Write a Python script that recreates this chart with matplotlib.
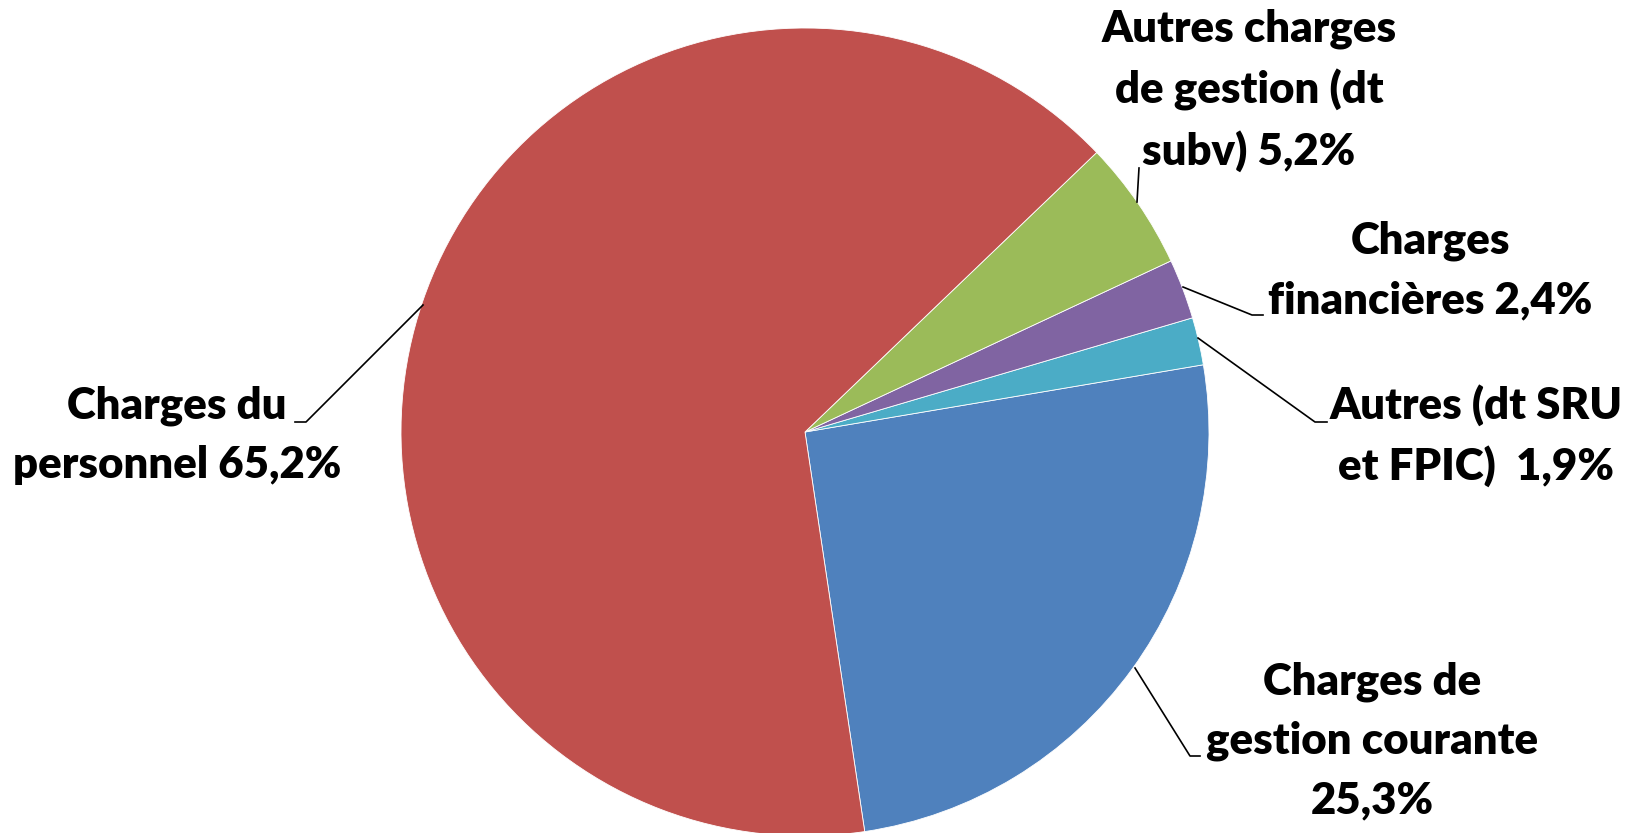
import matplotlib.pyplot as plt

# Données du graphique
categories = ["Charges de\ngestion courante\n25,3%",
              "Autres (dt SRU\net FPIC)  1,9%",
              "Charges\nfinancières 2,4%",
              "Autres charges\nde gestion (dt\nsubv) 5,2%",
              "Charges du\npersonnel 65,2%"]
valeurs = [25.3, 1.9, 2.4, 5.2, 65.2]
couleurs = ["#4F81BD", "#4BACC6", "#8064A2", "#9BBB59", "#C0504D"]

W, H = 1625, 833
fig = plt.figure(figsize=(W/100, H/100), dpi=100)
ax = fig.add_axes([0, 0, 1, 1])

# Le camembert (coordonnées en pixels, y vers le haut)
cx, cy, r = 805, H-432, 404
ax.pie(valeurs, colors=couleurs, startangle=-81.5, counterclock=True,
       center=(cx, cy), radius=r, frame=True,
       wedgeprops=dict(edgecolor="white", linewidth=0.6))
ax.set_xlim(0, W)
ax.set_ylim(0, H)
ax.axis("off")

# Étiquettes : position (x, baseline de la dernière ligne) et traits de rappel
positions = [(1372, 813), (1476, 480), (1430, 313), (1249, 165), (177, 478)]
traits = [[(1135, 668), (1190, 756), (1200, 756)],
          [(1198, 338), (1315, 422), (1327, 422)],
          [(1183, 287), (1252, 315), (1263, 315)],
          [(1137, 202), (1139, 168)],
          [(423, 305), (306, 422), (295, 422)]]

for texte, (x, y), trait in zip(categories, positions, traits):
    ax.text(x, H-y, texte, ha="center", va="baseline", fontsize=31.5,
            fontweight="heavy", family="Lato", linespacing=1.57, color="black")
    xs = [p[0] for p in trait]
    ys = [H-p[1] for p in trait]
    ax.plot(xs, ys, color="black", linewidth=1.2)

fig.savefig("out.png", dpi=100)
